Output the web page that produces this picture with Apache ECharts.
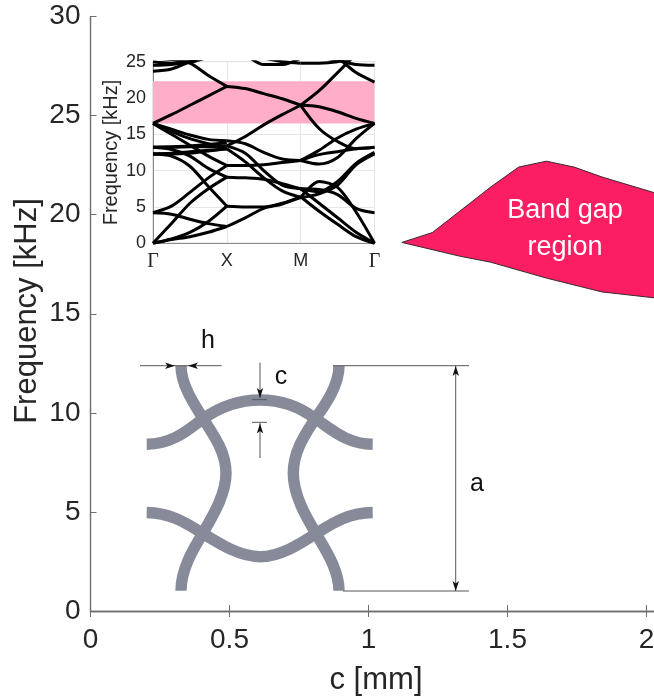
<!DOCTYPE html>
<html><head><meta charset="utf-8">
<style>html,body{margin:0;padding:0;background:#fff;overflow:hidden}#c{width:654px;height:696px}</style>
<script src="https://cdn.jsdelivr.net/npm/echarts@6/dist/echarts.min.js"></script>
</head><body><div id="c"></div>
<script>
// Band gap region boundaries (c [mm], frequency [kHz])
const gapUpper = [[1.12,18.6],[1.23,19.1],[1.44,21.4],[1.54,22.4],[1.64,22.7],[1.74,22.4],[1.84,21.9],[2.03,21.1],[2.3,20.2]];
const gapLower = [[1.12,18.6],[1.33,17.9],[1.44,17.6],[1.64,16.8],[1.84,16.1],[2.03,15.8],[2.3,15.0]];
const mainXTicks = [0,0.5,1,1.5,2];
const mainYTicks = [0,5,10,15,20,25,30];
// Inset dispersion branches: frequency at 5 evenly spaced points along each path segment
const insetLabels = ['Γ','X','M','Γ'];
const gammaX = [
 [0,0.5,0.9,1.5,2.3],[0,0.6,1.5,3.0,5.1],[0,2.7,5.5,7.5,9.1],
 [4.2,4.0,3.3,2.7,2.3],[4.2,5.1,7.0,9.0,10.7],
 [12.3,12.3,12.4,12.7,13.0],[12.3,12.0,10.6,7.8,5.1],[13.2,12.9,12.0,10.3,9.1],
 [13.2,13.2,13.3,13.3,13.4],[13.2,13.3,13.4,13.6,13.8],[12.3,12.4,12.6,12.8,13.0],
 [16.5,15.7,14.9,14.3,14.1],[16.5,15.4,14.4,13.7,13.0],[16.5,15.0,13.5,12.0,10.7],
 [16.5,17.7,19.0,20.3,21.6],[25.5,25.3,24.8,23.1,21.6],
 [23.7,24.0,25.0,26.0,27.0],[24.5,24.6,25.1,26.0,26.5],[25.0,24.8,24.9,25.6,26.0]
];
const xM = [
 [2.3,3.5,4.8,5.4,6.4],[5.1,5.0,5.0,5.5,6.3],[9.1,9.0,8.8,8.2,7.5],
 [10.7,10.7,10.8,11.1,11.4],[13.0,11.2,9.0,7.2,6.3],[13.4,12.4,10.0,8.0,7.5],
 [14.1,13.7,12.5,11.6,11.4],[13.4,14.7,16.3,17.7,19.0],[21.6,21.3,20.6,19.9,19.0],
 [28.0,26.0,24.6,24.6,25.5],[26.0,26.0,25.5,25.0,24.8]
];
const mGamma = [
 [6.4,4.4,2.6,0.9,0],[7.5,5.5,3.5,1.5,0],[6.3,8.5,7.7,4.3,0],
 [7.5,7.4,6.7,4.8,4.2],[6.3,6.8,8.0,10.8,12.3],[7.5,7.1,8.5,11.0,12.5],
 [11.4,10.9,11.8,14.4,16.5],[11.4,12.2,12.6,13.0,13.2],[11.4,12.8,14.5,15.7,16.5],
 [19.0,15.8,14.0,13.0,13.2],[19.0,18.8,18.1,17.2,16.5],[19.0,21.0,23.5,26.0,28.0],
 [27.0,26.5,25.5,23.5,22.2],[24.8,24.8,25.0,25.6,26.0],[26.0,25.6,25.2,24.6,24.5]
];
const segmentT = [0,0.25,0.5,0.75,1];
const gapBand = [16.5,22.3];

const SANS = '"Liberation Sans", Arial, sans-serif';
const INK = '#262626', AX = '#6e6e6e', STEEL = '#868a99', DIM = '#555555';

function curveSeries(rows, start){
  return rows.map(r => ({
    type:'line', xAxisIndex:2, yAxisIndex:2, smooth:0.3, symbol:'none', silent:true, z:5,
    lineStyle:{color:'#000',width:3}, data:r.map((f,i)=>[start+segmentT[i],f])
  }));
}
const polygon = gapUpper.concat(gapLower.slice(1).reverse());

const wave = (d)=>({type:'path',shape:{pathData:d},style:{fill:null,stroke:STEEL,lineWidth:11.4}});
const thin = (d)=>({type:'path',shape:{pathData:d},style:{fill:null,stroke:DIM,lineWidth:1}});
const head = (d)=>({type:'path',shape:{pathData:d},style:{fill:'#111',stroke:null}});
const word = (t,x,y,s,c)=>({type:'text',x,y,z:20,style:{text:t,fill:c||'#111',font:s+'px '+SANS,textAlign:'center',textVerticalAlign:'middle'}});

const schematic = [
 wave('M146.7 444.3 C174 444 190 428 203.5 418.5 C220 407 240 400 260 400 C280 400 300 407 315 418.5 C330 428 346 444 372.7 444.3'),
 wave('M146.7 512.5 C174 513 190 526 203 533.5 C220 544 240 556.7 260 556.7 C280 556.7 300 544 316 533.5 C330 525 346 513 372.7 512.5'),
 wave('M181 365.7 C181 385 194 404 204 420 C214 436 226 452 226 473.3 C226 495 212 517 202.7 533.5 C192 551 181 570 181 590.7'),
 wave('M339 365.7 C339 385 326 404 314.3 420 C304 436 293.3 452 293.3 473.3 C293.3 495 306 517 316 533.5 C326 551 339 570 339 590.7'),
 thin('M140 365.7 H221.7'), thin('M333 365.7 H469'), thin('M343 591 H469'), thin('M455.7 366 V591'),
 thin('M260 362.7 V398'), thin('M252 399.7 H267'), thin('M252 422.3 H267'), thin('M260 423 V458'),
 head('M175 365.7 L165 362.5 L167.5 365.7 L165 369 Z'),
 head('M188 365.7 L198 362.5 L195.5 365.7 L198 369 Z'),
 head('M455.7 366 L452.5 376 L455.7 373.5 L459 376 Z'),
 head('M455.7 591 L452.5 581 L455.7 583.5 L459 581 Z'),
 head('M260 398 L256.8 388 L260 390.5 L263.2 388 Z'),
 head('M260 423.5 L256.8 433.5 L260 431 L263.2 433.5 Z')
];
const words = [
 word('h',208,341,25), word('c',281,377,25), word('a',477,484,25),
 word('Band gap',565,211,27,'#fff'), word('region',565,248,27,'#fff')
];

const chart = echarts.init(document.getElementById('c'),null,{renderer:'canvas'});
chart.setOption({
 animation:false, backgroundColor:'#fff',
 textStyle:{fontFamily:SANS},
 grid:[
  {left:90.5,top:16.5,width:695,height:594.5,show:false,outerBoundsMode:'none'},
  {left:90.5,top:16.5,width:695,height:594.5,show:false,outerBoundsMode:'none'},
  {left:153,top:61.7,width:221.5,height:181.5,show:true,borderColor:'#c8c8c8',borderWidth:1,outerBoundsMode:'none'}
 ],
 xAxis:[
  {gridIndex:0,type:'value',min:0,max:2.5,interval:0.5,position:'bottom',
   axisLine:{lineStyle:{color:AX,width:1.4}},axisTick:{inside:true,length:6,lineStyle:{color:AX,width:1}},splitLine:{show:false},
   axisLabel:{color:INK,fontSize:28,margin:15,formatter:v=>mainXTicks.includes(v)?String(v):''}},
  {gridIndex:1,type:'value',min:0,max:2.5,interval:0.5,position:'top',
   axisLine:{lineStyle:{color:AX,width:1.4}},axisTick:{inside:true,length:6,lineStyle:{color:AX,width:1}},splitLine:{show:false},axisLabel:{show:false}},
  {gridIndex:2,type:'value',min:0,max:3,interval:1,position:'bottom',
   axisLine:{lineStyle:{color:'#8a8a8a',width:1}},axisTick:{show:false},
   splitLine:{show:true,lineStyle:{color:'#e6e6e6',width:1}},
   axisLabel:{margin:9,color:INK,fontSize:18,formatter:v=>{const s=insetLabels[v];return s==='Γ'?'{g|Γ}':s;},rich:{g:{fontFamily:'"Liberation Serif", serif',fontSize:20,color:INK}}}}
 ],
 yAxis:[
  {gridIndex:0,type:'value',min:0,max:30,interval:5,
   axisLine:{show:true,lineStyle:{color:AX,width:1.4}},axisTick:{show:true,inside:true,length:6,lineStyle:{color:AX,width:1}},splitLine:{show:false},
   axisLabel:{color:INK,fontSize:28,margin:10,formatter:v=>mainYTicks.includes(v)?String(v):''}},
  {gridIndex:1,type:'value',min:0,max:30,interval:5,position:'right',show:false},
  {gridIndex:2,type:'value',min:0,max:25,interval:5,
   name:'Frequency [kHz]',nameLocation:'middle',nameGap:32,nameTextStyle:{color:INK,fontSize:20},
   axisLine:{show:true,lineStyle:{color:'#8a8a8a',width:1}},axisTick:{show:false},
   splitLine:{show:true,lineStyle:{color:'#e6e6e6',width:1}},
   axisLabel:{color:INK,fontSize:18,margin:7}}
 ],
 graphic:{elements:words.concat([
  {type:'text',x:376,y:680,z:20,style:{text:'c [mm]',fill:INK,font:'31px '+SANS,textAlign:'center',textVerticalAlign:'middle'}},
  {type:'text',x:27,y:311,rotation:Math.PI/2,z:20,style:{text:'Frequency [kHz]',fill:INK,font:'31px '+SANS,textAlign:'center',textVerticalAlign:'middle'}}
 ])},
 series:[
  {type:'custom',xAxisIndex:0,yAxisIndex:0,coordinateSystem:'cartesian2d',silent:true,z:2,clip:true,
   data:[[0,0]],encode:{x:0,y:1},
   renderItem:(p,api)=>({type:'polygon',shape:{points:polygon.map(q=>api.coord(q))},
     style:{fill:'#fb1e63',stroke:'#3a2a30',lineWidth:1}})},
  {type:'custom',xAxisIndex:0,yAxisIndex:0,coordinateSystem:'cartesian2d',silent:true,z:3,clip:false,
   data:[[0,0]],encode:{x:0,y:1},
   renderItem:()=>({type:'group',children:schematic})},
  {type:'custom',xAxisIndex:2,yAxisIndex:2,coordinateSystem:'cartesian2d',silent:true,z:1,clip:true,
   data:[[0,gapBand[0]]],encode:{x:0,y:1},
   renderItem:(p,api)=>{const a=api.coord([0,gapBand[1]]),b=api.coord([3,gapBand[0]]);
     return {type:'rect',shape:{x:a[0],y:a[1],width:b[0]-a[0],height:b[1]-a[1]},style:{fill:'#ffadc8'}};}}
 ].concat(curveSeries(gammaX,0),curveSeries(xM,1),curveSeries(mGamma,2))
});
</script></body></html>
